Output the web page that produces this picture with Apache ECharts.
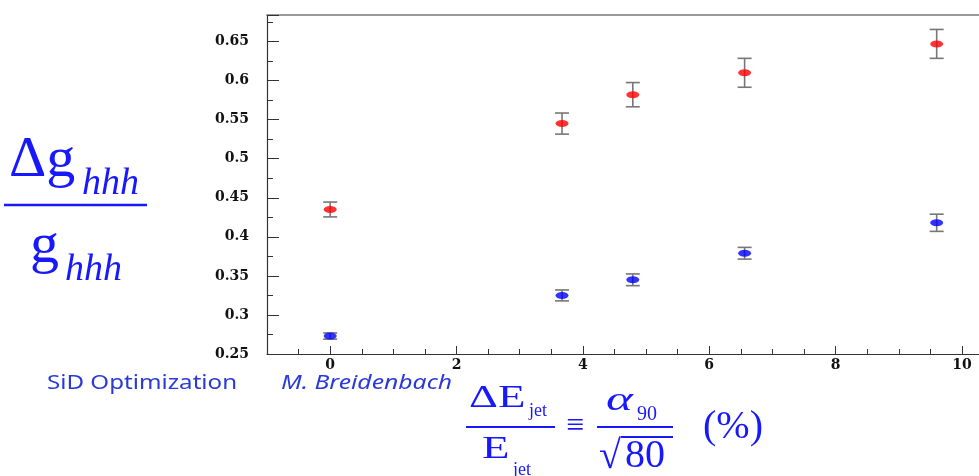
<!DOCTYPE html>
<html><head><meta charset="utf-8">
<script src="https://cdn.jsdelivr.net/npm/echarts@6/dist/echarts.min.js"></script>
<style>html,body{margin:0;padding:0;background:#fff}#c{width:979px;height:476px}</style>
</head><body><div id="c"></div>
<script>
// ---- data ----
const xValues = [0, 3.67, 4.79, 6.56, 9.6];
const redValues = [0.435, 0.545, 0.582, 0.610, 0.647];
const redErrors = [0.0095, 0.0135, 0.0155, 0.0185, 0.0185];
const blueValues = [0.273, 0.325, 0.345, 0.379, 0.418];
const blueErrors = [0.004, 0.007, 0.0075, 0.0075, 0.011];
const xTickLabels = [0, 2, 4, 6, 8, 10];
const yTickLabels = [0.25, 0.3, 0.35, 0.4, 0.45, 0.5, 0.55, 0.6, 0.65];

const BLUE = '#1818ff';
const SERIF = '"Liberation Serif", "Times New Roman", serif';
const AXISFONT = '"DejaVu Serif", serif';

const chart = echarts.init(document.getElementById('c'), null, {renderer: 'canvas'});

function errRender(params, api) {
  const x = api.value(0), y = api.value(1), e = api.value(2);
  const t = api.coord([x, y + e]);
  const b = api.coord([x, y - e]);
  const hw = 7;
  const st = {stroke: '#777', lineWidth: 1.6};
  return {type: 'group', children: [
    {type: 'line', shape: {x1: t[0], y1: t[1], x2: b[0], y2: b[1]}, style: st},
    {type: 'line', shape: {x1: t[0] - hw, y1: t[1], x2: t[0] + hw, y2: t[1]}, style: st},
    {type: 'line', shape: {x1: b[0] - hw, y1: b[1], x2: b[0] + hw, y2: b[1]}, style: st}
  ]};
}

function txt(text, x, yBase, size, opts) {
  opts = opts || {};
  const fam = opts.family || SERIF;
  const style = (opts.italic ? 'italic ' : '') + (opts.bold ? 'bold ' : '');
  return {
    type: 'text', x: x, y: yBase - 0.34 * size,
    scaleX: opts.sx || 1, originX: 0, originY: 0,
    style: {text: text, font: style + size + 'px ' + fam, fill: opts.color || BLUE,
            align: 'left', verticalAlign: 'middle'}
  };
}
function hline(x1, x2, y, w) {
  return {type: 'line', shape: {x1: x1, y1: y, x2: x2, y2: y}, style: {stroke: BLUE, lineWidth: w || 2}};
}

const FY = 5; // vertical shift of the x-axis title block
const option = {
  animation: false,
  backgroundColor: '#fff',
  grid: {left: 267, right: 0, top: 15, bottom: 122, containLabel: false},
  xAxis: [
    {type: 'value', min: -1, max: 10.27, position: 'bottom',
     axisLine: {show: true, onZero: false, lineStyle: {color: '#333', width: 1.2}},
     axisTick: {show: true, inside: true, length: 8, customValues: xTickLabels, lineStyle: {color: '#333'}},
     axisLabel: {show: true, customValues: xTickLabels, margin: 4, color: '#111',
                 fontFamily: AXISFONT, fontWeight: 'bold', fontSize: 14},
     splitLine: {show: false}},
    {type: 'value', min: -1, max: 10.27, position: 'bottom', interval: 0.5,
     axisLine: {show: false},
     axisTick: {show: true, inside: true, length: 5, lineStyle: {color: '#333'}},
     axisLabel: {show: false}, splitLine: {show: false}},
    {type: 'value', min: -1, max: 10.27, position: 'top',
     axisLine: {show: true, onZero: false, lineStyle: {color: '#999', width: 2}},
     axisTick: {show: false}, axisLabel: {show: false}, splitLine: {show: false}}
  ],
  yAxis: [{
    type: 'value', min: 0.25, max: 0.684, interval: 0.05,
    axisLine: {show: true, onZero: false, lineStyle: {color: '#333', width: 1.2}},
    axisTick: {show: true, inside: true, length: 12, lineStyle: {color: '#333'}},
    minorTick: {show: true, splitNumber: 2, length: 6, lineStyle: {color: '#333'}},
    axisLabel: {margin: 18, color: '#111', fontFamily: AXISFONT, fontWeight: 'bold', fontSize: 14,
                customValues: yTickLabels,
                formatter: v => String(+(+v).toFixed(2))},
    splitLine: {show: false}
  }],
  series: [
    {type: 'custom', renderItem: errRender, xAxisIndex: 0, z: 2,
     data: xValues.map((x, i) => [x, redValues[i], redErrors[i]])},
    {type: 'custom', renderItem: errRender, xAxisIndex: 0, z: 2,
     data: xValues.map((x, i) => [x, blueValues[i], blueErrors[i]])},
    {type: 'scatter', xAxisIndex: 0, z: 3, symbol: 'circle', symbolSize: [13, 7],
     itemStyle: {color: '#ff0000'}, data: xValues.map((x, i) => [x, redValues[i]])},
    {type: 'scatter', xAxisIndex: 0, z: 3, symbol: 'circle', symbolSize: [13, 7],
     itemStyle: {color: '#0000ff'}, data: xValues.map((x, i) => [x, blueValues[i]])}
  ],
  graphic: [
    // y-axis title: Δg_hhh / g_hhh
    txt('Δg', 9, 180, 58),
    txt('hhh', 82, 197, 38, {italic: true}),
    hline(4, 147, 205, 2.5),
    txt('g', 30, 266, 58),
    txt('hhh', 65, 283, 38, {italic: true}),
    // footer
    txt('SiD Optimization', 47, 390, 19, {family: '"Comic Sans MS", "Noto Sans", sans-serif', color: '#2a3ad8', sx: 1.27}),
    txt('M. Breidenbach', 281, 390, 19, {family: '"Comic Sans MS", "Noto Sans", sans-serif', italic: true, color: '#2a3ad8', sx: 1.3}),
    // x-axis title: ΔE_jet / E_jet ≡ α_90 / √80 (%)
    txt('ΔE', 469, 404 + FY, 31, {sx: 1.45}),
    txt('jet', 529, 412 + FY, 18),
    hline(466, 555, 422 + FY, 2),
    txt('E', 482, 455 + FY, 31, {sx: 1.45}),
    txt('jet', 513, 471 + FY, 18),
    txt('≡', 566, 432 + FY, 32),
    txt('α', 606, 408 + FY, 34, {italic: true, sx: 1.5}),
    txt('90', 637, 417 + FY, 20),
    hline(597, 673, 422 + FY, 2),
    txt('√', 599, 466 + FY, 40),
    hline(621, 673, 432 + FY, 2),
    txt('80', 625, 465 + FY, 40),
    txt('(%)', 703, 436 + FY, 40)
  ]
};
chart.setOption(option);
</script>
</body></html>
